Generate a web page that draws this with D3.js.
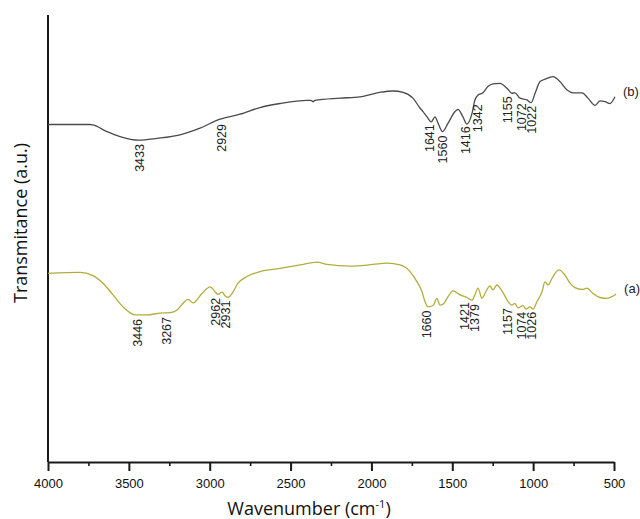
<!DOCTYPE html>
<html>
<head>
<meta charset="utf-8">
<script src="https://cdn.jsdelivr.net/npm/d3@7"></script>
<style>
  body { margin: 0; background: #fff; }
  svg { display: block; }
</style>
</head>
<body>
<svg id="chart"></svg>
<script>
// spectrum (b) - upper trace
const wnB = [4000,3740,3722,3635,3555,3440,3326,3184,3060,2936,2813,2689,2565,2398,2374,2361,2349,2194,2071,1947,
  1867,1805,1743,1700,1681,1656,1630,1607,1588,1560,1526,1483,1465,1434,1410,1378,1360,1341,1310,1280,
  1249,1205,1162,1131,1113,1081,1038,1012,988,957,914,877,834,790,753,697,661,617,586,555,524,494];
const trB = [75.5,75.5,75.4,73.9,72.8,72.0,72.4,73.2,74.7,76.7,77.8,79.3,80.2,80.9,80.9,80.6,80.9,81.4,81.7,82.7,
  83.0,82.7,81.4,79.2,78.4,77.2,76.1,77.2,75.8,73.9,75.8,78.4,78.9,77.2,75.6,78.0,81.0,82.1,82.6,84.0,
  84.6,84.7,83.6,82.5,82.6,81.4,81.0,80.4,82.5,85.1,85.8,86.2,85.1,83.2,82.6,82.6,81.4,79.8,80.8,80.6,80.2,81.7];

// spectrum (a) - lower trace
const wnA = [4000,3802,3722,3660,3598,3536,3462,3388,3307,3246,3202,3165,3134,3103,3048,2998,2967,2949,2924,2905,
  2887,2862,2825,2770,2689,2565,2441,2336,2275,2132,1990,1904,1823,1761,1718,1687,1669,1650,1619,1595,
  1576,1557,1526,1496,1452,1409,1378,1360,1341,1316,1298,1267,1249,1224,1205,1180,1155,1131,1113,1094,
  1063,1044,1020,1001,976,945,927,908,883,865,840,803,772,741,697,667,630,586,543,512,487];
const trA = [42.2,42.4,41.7,40.0,37.4,34.7,32.9,32.9,33.3,33.4,34.0,35.5,36.4,35.6,37.7,39.2,38.1,37.5,38.0,37.2,
  36.8,37.7,40.0,41.5,42.6,43.3,44.1,44.7,44.2,43.8,44.2,44.5,44.1,42.6,40.3,38.1,35.9,34.7,35.0,36.6,
  35.1,35.3,37.0,38.3,37.4,36.8,36.2,37.4,38.9,36.6,37.7,39.4,38.5,39.6,38.9,37.5,35.9,35.1,35.5,34.5,
  35.0,34.2,34.7,34.2,35.9,38.1,40.3,39.6,41.1,42.2,43.0,41.8,40.0,39.0,38.6,38.9,37.7,36.8,36.6,37.0,37.6];

const peaksB = ["3433","2929","1641","1560","1416","1342","1155","1072","1022"];
const peaksA = ["3446","3267","2962","2931","1660","1421","1379","1157","1074","1026"];

const majorTicks = [4000,3500,3000,2500,2000,1500,1000,500];
const minorTicks = [3750,3250,2750,2250,1750,1250,750];

const width = 640, height = 519;
const svg = d3.select("#chart").attr("width", width).attr("height", height);

const x = d3.scaleLinear().domain([4000, 500]).range([48, 614]);
const y = d3.scaleLinear().domain([0, 100]).range([462, 15]);

// axes
svg.append("line")
  .attr("x1", x(4000)).attr("x2", x(4000))
  .attr("y1", y(100)).attr("y2", y(0))
  .attr("stroke", "#1a1a1a").attr("stroke-width", 2);

const xAxis = svg.append("g")
  .attr("transform", "translate(0," + y(0) + ")")
  .call(d3.axisBottom(x).tickValues(majorTicks).tickSize(9).tickSizeOuter(0).tickPadding(8).tickFormat(d3.format("d")));
xAxis.select(".domain").attr("stroke", "#1a1a1a").attr("stroke-width", 2);
xAxis.selectAll(".tick line").attr("stroke", "#1a1a1a").attr("stroke-width", 2);
xAxis.selectAll(".tick text")
  .attr("fill", "#111")
  .style("font-family", "'Liberation Sans', Arial, sans-serif")
  .style("font-size", "13px");

const xMinor = svg.append("g")
  .attr("transform", "translate(0," + y(0) + ")")
  .call(d3.axisBottom(x).tickValues(minorTicks).tickSize(4).tickSizeOuter(0).tickFormat(""));
xMinor.select(".domain").remove();
xMinor.selectAll(".tick line").attr("stroke", "#1a1a1a").attr("stroke-width", 1.6);

// titles
const xTitle = svg.append("text")
  .attr("x", 309).attr("y", 515)
  .attr("text-anchor", "middle")
  .attr("fill", "#111")
  .style("font-family", "'Open Sans', sans-serif")
  .style("font-size", "18px")
  .text("Wavenumber (cm");
xTitle.append("tspan").attr("baseline-shift", "super").style("font-size", "11px").text("-1");
xTitle.append("tspan").text(")");

svg.append("text")
  .attr("transform", "translate(21,223) rotate(-90)")
  .attr("text-anchor", "middle")
  .attr("dy", "0.35em")
  .attr("fill", "#111")
  .style("font-family", "'Open Sans', sans-serif")
  .style("font-size", "18px")
  .text("Transmitance (a.u.)");

const line = d3.line()
  .x(d => x(d[0]))
  .y(d => y(d[1]))
  .curve(d3.curveMonotoneX);

function drawTrace(wn, tr, color, peaks, tag) {
  const data = wn.map((w, i) => [w, tr[i]]);
  svg.append("path")
    .datum(data)
    .attr("d", line)
    .attr("fill", "none")
    .attr("stroke", color)
    .attr("stroke-width", 1.3);

  const pts = data.map(d => [x(d[0]), y(d[1])]);
  function yAt(px) {
    for (let i = 1; i < pts.length; i++) {
      if (pts[i][0] >= px) {
        const t = (px - pts[i - 1][0]) / (pts[i][0] - pts[i - 1][0]);
        return pts[i - 1][1] + t * (pts[i][1] - pts[i - 1][1]);
      }
    }
    return pts[pts.length - 1][1];
  }

  // keep neighbouring labels apart
  let prev = -Infinity;
  const labels = peaks.map(p => {
    const px = Math.max(x(+p), prev + 10);
    prev = px;
    const py = Math.max(yAt(px - 3), yAt(px), yAt(px + 3)) + 4;
    return { text: p, px, py };
  });

  svg.append("g").selectAll("text")
    .data(labels)
    .join("text")
    .attr("transform", d => "translate(" + d.px + "," + d.py + ") rotate(-90)")
    .attr("text-anchor", "end")
    .attr("dy", "0.35em")
    .attr("fill", "#222")
    .style("font-family", "'Liberation Sans', Arial, sans-serif")
    .style("font-size", "12.5px")
    .text(d => d.text);

  const last = pts[pts.length - 1];
  svg.append("text")
    .attr("x", last[0] + 8)
    .attr("y", last[1] - 5)
    .attr("dy", "0.35em")
    .attr("fill", "#222")
    .style("font-family", "'Liberation Sans', Arial, sans-serif")
    .style("font-size", "13px")
    .text(tag);
}

drawTrace(wnB, trB, "#4a4a4a", peaksB, "(b)");
drawTrace(wnA, trA, "#b3ad3c", peaksA, "(a)");
</script>
</body>
</html>
